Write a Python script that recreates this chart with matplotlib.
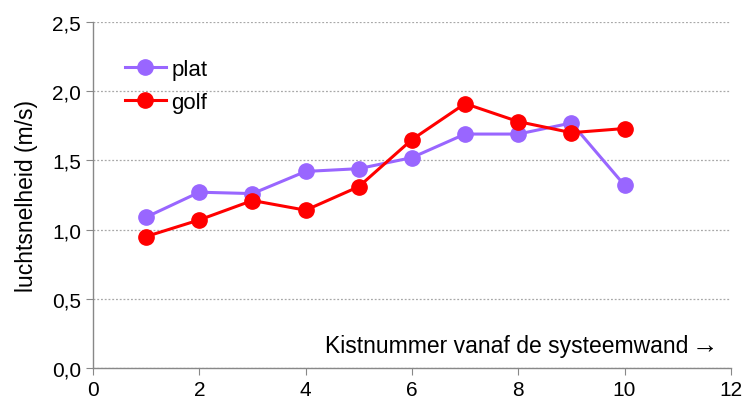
import numpy as np
import matplotlib
matplotlib.use('Agg')
import matplotlib.pyplot as plt
from matplotlib.ticker import FuncFormatter

# Data
kist = [1, 2, 3, 4, 5, 6, 7, 8, 9, 10]
plat = [1.09, 1.27, 1.26, 1.42, 1.44, 1.52, 1.69, 1.69, 1.77, 1.32]
golf = [0.95, 1.07, 1.21, 1.14, 1.31, 1.65, 1.91, 1.78, 1.70, 1.73]

plt.rcParams['font.family'] = ['Liberation Sans', 'DejaVu Sans']

fig = plt.figure(figsize=(7.46, 4.02), dpi=100)
ax = fig.add_axes([0.1247, 0.082, 0.855, 0.861])

ax.plot(kist, plat, color='#9966FF', marker='o', markersize=11, linewidth=2.2,
        label='plat', zorder=3)
ax.plot(kist, golf, color='#FF0000', marker='o', markersize=11, linewidth=2.2,
        label='golf', zorder=4)

ax.set_xlim(0, 12)
ax.set_ylim(0, 2.5)
ax.set_xticks(np.arange(0, 13, 2))
ax.set_yticks(np.arange(0, 2.51, 0.5))
ax.yaxis.set_major_formatter(FuncFormatter(lambda v, p: f"{v:.1f}".replace('.', ',')))

ax.grid(True, axis='y', linestyle=(0, (1.5, 1.5)), color='#a8a8a8', linewidth=0.9)
ax.set_axisbelow(True)
for s in ['top', 'right']:
    ax.spines[s].set_visible(False)
for s in ['left', 'bottom']:
    ax.spines[s].set_color('#888888')
    ax.spines[s].set_linewidth(1.0)
ax.tick_params(axis='both', colors='#888888', labelcolor='black', labelsize=15,
               length=5, direction='out')

ax.set_ylabel('luchtsnelheid (m/s)', fontsize=16.5, labelpad=10)
# axis title sits inside the plot, with a wider arrow
ax.text(0.934, 0.066, 'Kistnummer vanaf de systeemwand', transform=ax.transAxes,
        ha='right', va='center', fontsize=16.5)
ax.text(0.98, 0.066, '→', transform=ax.transAxes, ha='right', va='center',
        fontsize=19)

ax.legend(loc='upper left', bbox_to_anchor=(0.05, 0.893), frameon=False, fontsize=16,
          handlelength=1.85, handletextpad=0.25, labelspacing=0.55, borderaxespad=0,
          borderpad=0)

fig.savefig('out.png', dpi=100, facecolor='white')
